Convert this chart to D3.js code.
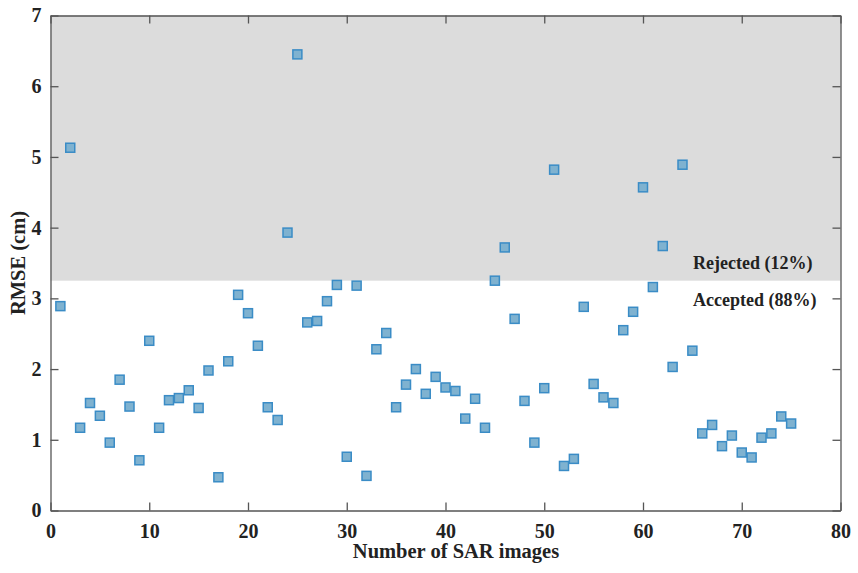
<!DOCTYPE html>
<html>
  <head>
    <meta http-equiv="Content-Type" content="text/html;charset=utf-8">
    <title>RMSE</title>
    <script src="https://d3js.org/d3.v7.min.js"></script>
    <style type="text/css">
body {
    margin: 0;
    background: #fff;
}
text {
    font-family: "Liberation Serif", "Times New Roman", serif;
    font-weight: bold;
    fill: #222;
}
.axis path, .axis line {
    stroke: #555;
    stroke-width: 1.3px;
}
rect.pt {
    fill: #7fb2d0;
    stroke: #3a8cc6;
    stroke-width: 1.5px;
}
    </style>
  </head>
  <body>
    <script type="text/javascript">
// data
var images = d3.range(1, 76);
var rmse = [2.89, 5.13, 1.17, 1.52, 1.34, 0.96, 1.85, 1.47, 0.71, 2.40,
            1.17, 1.56, 1.59, 1.70, 1.45, 1.98, 0.47, 2.11, 3.05, 2.79,
            2.33, 1.46, 1.28, 3.93, 6.45, 2.66, 2.68, 2.96, 3.19, 0.76,
            3.18, 0.49, 2.28, 2.51, 1.46, 1.78, 2.00, 1.65, 1.89, 1.74,
            1.69, 1.30, 1.58, 1.17, 3.25, 3.72, 2.71, 1.55, 0.96, 1.73,
            4.82, 0.63, 0.73, 2.88, 1.79, 1.60, 1.52, 2.55, 2.81, 4.57,
            3.16, 3.74, 2.03, 4.89, 2.26, 1.09, 1.21, 0.91, 1.06, 0.82,
            0.75, 1.03, 1.09, 1.33, 1.23];
var xTicks = [0, 10, 20, 30, 40, 50, 60, 70, 80];
var yTicks = [0, 1, 2, 3, 4, 5, 6, 7];
var threshold = 3.25;
var labels = ['Rejected (12%)', 'Accepted (88%)'];

var W = 858, H = 573,
    mLeft = 50.5, mRight = 840.5, mTop = 15.5, mBottom = 510.5;

var svg = d3.select('body').append('svg')
    .attr('width', W)
    .attr('height', H);

var x = d3.scaleLinear().domain([0, 80]).range([mLeft, mRight]);
var y = d3.scaleLinear().domain([0, 7]).range([mBottom, mTop]);

// rejected band
svg.append('rect')
    .attr('x', x(0))
    .attr('y', y(7))
    .attr('width', x(80) - x(0))
    .attr('height', y(threshold) - y(7))
    .attr('fill', '#dcdcdc');

// axes, ticks pointing in
svg.append('g').attr('class', 'axis')
    .attr('transform', 'translate(0,' + mBottom + ')')
    .call(d3.axisBottom(x).tickValues(xTicks).tickFormat(d3.format('d'))
        .tickSizeInner(-8).tickSizeOuter(0))
    .selectAll('text').style('font-size', '20px').attr('y', 13);
svg.append('g').attr('class', 'axis')
    .attr('transform', 'translate(0,' + mTop + ')')
    .call(d3.axisTop(x).tickValues(xTicks).tickSizeInner(-8).tickSizeOuter(0).tickFormat(''));
svg.append('g').attr('class', 'axis')
    .attr('transform', 'translate(' + mLeft + ',0)')
    .call(d3.axisLeft(y).tickValues(yTicks).tickFormat(d3.format('d'))
        .tickSizeInner(-8).tickSizeOuter(0))
    .selectAll('text').style('font-size', '20px').attr('x', -9);
svg.append('g').attr('class', 'axis')
    .attr('transform', 'translate(' + mRight + ',0)')
    .call(d3.axisRight(y).tickValues(yTicks).tickSizeInner(-8).tickSizeOuter(0).tickFormat(''));

// points
var s = 9;
svg.selectAll('rect.pt')
    .data(rmse)
  .enter().append('rect')
    .attr('class', 'pt')
    .attr('x', function(d, i) { return x(images[i]) - s/2 })
    .attr('y', function(d) { return y(d) - s/2 })
    .attr('width', s)
    .attr('height', s);

// band labels
svg.append('text')
    .attr('x', 693)
    .attr('y', y(threshold) - 12)
    .style('font-size', '18px')
    .text(labels[0]);
svg.append('text')
    .attr('x', 693)
    .attr('y', y(threshold) + 25)
    .style('font-size', '18px')
    .text(labels[1]);

// axis titles
svg.append('text')
    .attr('x', 456)
    .attr('y', 558)
    .attr('text-anchor', 'middle')
    .style('font-size', '20.5px')
    .text('Number of SAR images');
svg.append('text')
    .attr('transform', 'translate(25,' + ((mTop + mBottom) / 2) + ') rotate(-90)')
    .attr('text-anchor', 'middle')
    .style('font-size', '20.5px')
    .text('RMSE (cm)');
    </script>
  </body>
</html>
